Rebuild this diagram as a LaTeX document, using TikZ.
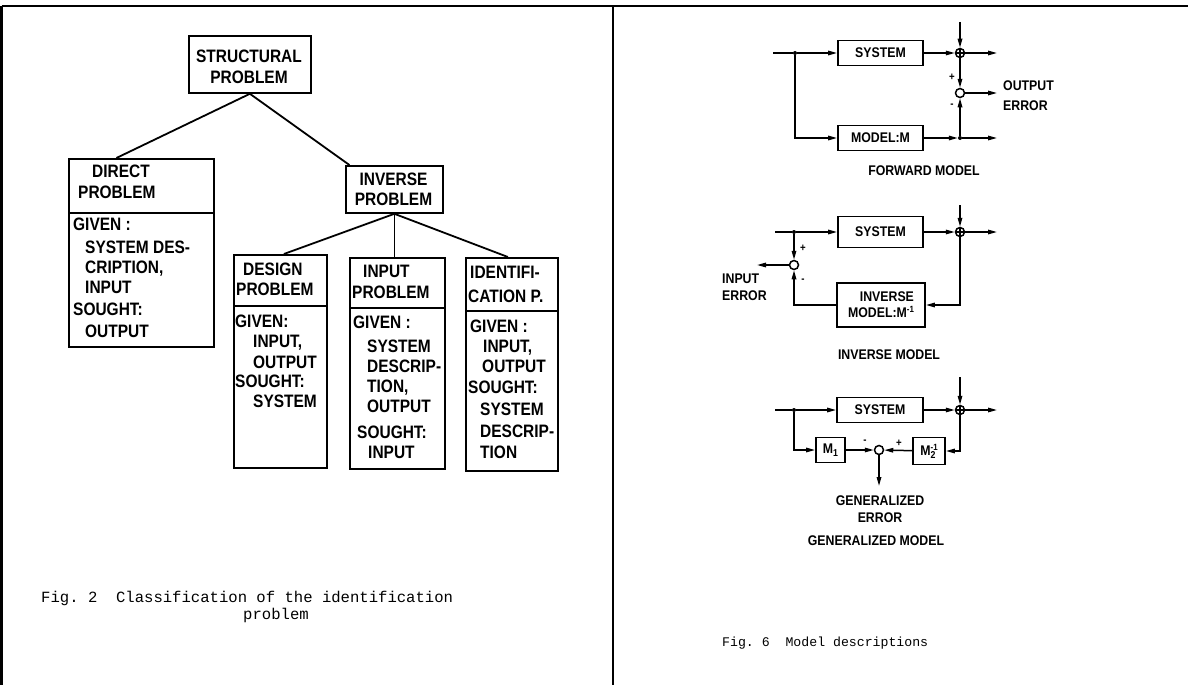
\documentclass[tikz,border=0pt]{standalone}
\usepackage{fontspec}
\newfontfamily\dinL{Liberation Sans Bold}[FakeStretch=0.86]
\newfontfamily\dinR{Liberation Sans Bold}[FakeStretch=0.88]
\newfontfamily\typew{Liberation Mono}
\usetikzlibrary{arrows.meta}
\newcommand\mysub[1]{\raisebox{-0.35ex}{\fontsize{10}{10}\selectfont #1}}
\newcommand\mysup[1]{\raisebox{0.75ex}{\fontsize{9}{9}\selectfont #1}}
\begin{document}
\begin{tikzpicture}[x=1pt,y=-1pt,
  lbox/.style={draw, line width=1.8pt, inner sep=0pt, anchor=north west},
  lln/.style={line width=1.8pt},
  lt/.style={anchor=base west, inner sep=0pt, font={\dinL\fontsize{18}{20}\selectfont}},
  rbox/.style={draw, line width=1.8pt, inner sep=0pt, font={\dinR\fontsize{14}{16}\selectfont}},
  rt/.style={anchor=base west, inner sep=0pt, font={\dinR\fontsize{14}{16}\selectfont}},
  sg/.style={inner sep=0pt, font={\dinR\fontsize{11}{11}\selectfont}},
  sumc/.style={circle, draw, line width=1.5pt, minimum size=9pt, inner sep=0pt},
  dot/.style={circle, fill, minimum size=4pt, inner sep=0pt},
  ln/.style={line width=1.5pt},
  arr/.style={line width=1.5pt, -{Triangle[length=9pt,width=4.5pt]}},
  frame/.style={line width=2.8pt}]
\fill[white] (0,0) rectangle (1188,685);
\useasboundingbox (0,0) rectangle (1188,685);
% frame
\draw[frame] (1.5,6) -- (1188,6);
\draw[frame] (1.5,6) -- (1.5,685);
\draw[frame] (613,6) -- (613,685);

% ---------------- left panel ----------------
\node[lbox, minimum width=122pt, minimum height=57pt] (sp) at (188,35) {};
\node[lt, anchor=base] (sp1) at (249,63) {STRUCTURAL};
\node[lt, anchor=base] (sp2) at (249,83) {PROBLEM};

\node[lbox, minimum width=145pt, minimum height=54pt] (dh) at (68,158) {};
\node[lbox, minimum width=145pt, minimum height=134pt] (db) at (68,212) {};
\node[lt] (d1) at (92,177) {DIRECT};
\node[lt] (d2) at (78,198) {PROBLEM};
\node[lt] (d3) at (73,230) {GIVEN :};
\node[lt] (d4) at (85,253) {SYSTEM DES-};
\node[lt] (d5) at (85,273) {CRIPTION,};
\node[lt] (d6) at (85,293) {INPUT};
\node[lt] (d7) at (73,315) {SOUGHT:};
\node[lt] (d8) at (85,337) {OUTPUT};

\node[lbox, minimum width=97pt, minimum height=47pt] (ih) at (345,165) {};
\node[lt, anchor=base] (i1) at (393.5,185) {INVERSE};
\node[lt, anchor=base] (i2) at (393.5,205) {PROBLEM};

\node[lbox, minimum width=93pt, minimum height=51pt] (gh) at (233,254) {};
\node[lbox, minimum width=93pt, minimum height=162pt] (gb) at (233,305) {};
\node[lt] (g1) at (243,275) {DESIGN};
\node[lt] (g2) at (236,295) {PROBLEM};
\node[lt] (g3) at (235,327) {GIVEN:};
\node[lt] (g4) at (253,347) {INPUT,};
\node[lt] (g5) at (253,368) {OUTPUT};
\node[lt] (g6) at (235,387) {SOUGHT:};
\node[lt] (g7) at (253,407) {SYSTEM};

\node[lbox, minimum width=95pt, minimum height=50pt] (nh) at (349,257) {};
\node[lbox, minimum width=95pt, minimum height=161pt] (nb) at (349,307) {};
\node[lt] (n1) at (363,277) {INPUT};
\node[lt] (n2) at (352,298) {PROBLEM};
\node[lt] (n3) at (353,328) {GIVEN :};
\node[lt] (n4) at (367,352) {SYSTEM};
\node[lt] (n5) at (367,372) {DESCRIP-};
\node[lt] (n6) at (367,392) {TION,};
\node[lt] (n7) at (367,412) {OUTPUT};
\node[lt] (n8) at (357,438) {SOUGHT:};
\node[lt] (n9) at (368,458) {INPUT};

\node[lbox, minimum width=92pt, minimum height=53pt] (fh) at (465,257) {};
\node[lbox, minimum width=92pt, minimum height=160pt] (fb) at (465,310) {};
\node[lt] (f1) at (470,278) {IDENTIFI-};
\node[lt] (f2) at (468,302) {CATION P.};
\node[lt] (f3) at (470,332) {GIVEN :};
\node[lt] (f4) at (483,352) {INPUT,};
\node[lt] (f5) at (482,372) {OUTPUT};
\node[lt] (f6) at (468,393) {SOUGHT:};
\node[lt] (f7) at (480,415) {SYSTEM};
\node[lt] (f8) at (480,437) {DESCRIP-};
\node[lt] (f9) at (480,458) {TION};

\draw[lln] (sp.south) -- ([xshift=-25pt]dh.north);
\draw[lln] (sp.south) -- ([xshift=-45pt]ih.north);
\draw[lln] (ih.south) -- ([xshift=3.5pt]gh.north);
\draw[lln] (ih.south) -- ([xshift=-3pt]nh.north);
\draw[lln] (ih.south) -- ([xshift=-4pt]fh.north);

\node[anchor=base west, inner sep=0pt, font={\typew\fontsize{15.6}{18}\selectfont}] (cap2a) at (41,602) {Fig.~2~~Classification of the identification};
\node[anchor=base west, inner sep=0pt, font={\typew\fontsize{15.6}{18}\selectfont}] (cap2b) at (243,619) {problem};

% ---------------- right panel: forward model ----------------
\node[rbox, minimum width=85pt, minimum height=25pt] (sysA) at (880.5,53) {SYSTEM};
\node[rbox, minimum width=85pt, minimum height=25pt] (modA) at (880.5,138) {MODEL:M};
\coordinate (inA) at (773,53);
\node[dot] (jA) at (795,53) {};
\node[sumc] (sA) at (960,53) {};
\coordinate (tA) at (960,22);
\coordinate (oA) at (997,53);
\node[sumc] (eA) at (960,93) {};
\coordinate (oeA) at (997,93);
\node[dot] (kA) at (960,138) {};
\coordinate (omA) at (997,138);
\draw[ln] (inA) -- (jA);
\draw[arr] (jA) -- (sysA);
\draw[arr] (jA) |- (modA);
\draw[arr] (sysA) -- (sA);
\draw[arr] (tA) -- (sA);
\draw[arr] (sA) -- (oA);
\draw[arr] (sA) -- (eA);
\draw[arr] (kA) -- (eA);
\draw[arr] (eA) -- (oeA);
\draw[arr] (modA) -- (kA);
\draw[arr] (kA) -- (omA);
\draw[ln] (sA.north) -- (sA.south) (sA.west) -- (sA.east);
\node[sg] (pA) at (952,77) {+};
\node[sg] (mA) at (952,106) {-};
\node[rt] (oeA1) at (1003,90) {OUTPUT};
\node[rt] (oeA2) at (1003,110) {ERROR};
\node[rt, anchor=base] (capA) at (924,175) {FORWARD MODEL};

% ---------------- inverse model ----------------
\node[rbox, minimum width=85pt, minimum height=31pt] (sysB) at (880.5,232) {SYSTEM};
\node[rbox, minimum width=88pt, minimum height=44pt, align=right] (invB) at (881,305) {INVERSE\\MODEL:M\mysup{-1}};
\coordinate (inB) at (775,232);
\node[dot] (jB) at (794,232) {};
\node[sumc] (sB) at (960,232) {};
\coordinate (tB) at (960,205);
\coordinate (oB) at (997,232);
\node[sumc] (cB) at (794,265) {};
\coordinate (ieB) at (757,265);
\draw[ln] (inB) -- (jB);
\draw[arr] (jB) -- (sysB);
\draw[arr] (sysB) -- (sB);
\draw[arr] (tB) -- (sB);
\draw[arr] (sB) -- (oB);
\draw[ln] (sB.north) -- (sB.south) (sB.west) -- (sB.east);
\draw[arr] (sB) |- (invB);
\draw[arr] (invB) -| (cB);
\draw[arr] (jB) -- (cB);
\draw[arr] (cB) -- (ieB);
\node[sg] (pB) at (803,248) {+};
\node[sg] (mB) at (803,281) {-};
\node[rt] (ieB1) at (722,283) {INPUT};
\node[rt] (ieB2) at (722,300) {ERROR};
\node[rt, anchor=base] (capB) at (889,359) {INVERSE MODEL};

% ---------------- generalized model ----------------
\node[rbox, minimum width=86pt, minimum height=25pt] (sysC) at (880,410) {SYSTEM};
\node[rbox, minimum width=29pt, minimum height=25pt] (m1C) at (830.5,450) {M\mysub{1}};
\node[rbox, minimum width=32pt, minimum height=27pt] (m2C) at (929,451) {M\rlap{\mysub{2}}\mysup{-1}};
\coordinate (inC) at (775,410);
\node[dot] (jC) at (794,410) {};
\node[sumc] (sC) at (960,410) {};
\coordinate (tC) at (960,377);
\coordinate (oC) at (997,410);
\node[sumc] (cC) at (879,450) {};
\coordinate (geC) at (879,486);
\draw[ln] (inC) -- (jC);
\draw[arr] (jC) -- (sysC);
\draw[arr] (sysC) -- (sC);
\draw[arr] (tC) -- (sC);
\draw[arr] (sC) -- (oC);
\draw[ln] (sC.north) -- (sC.south) (sC.west) -- (sC.east);
\draw[arr] (jC) |- (m1C);
\draw[arr] (m1C) -- (cC);
\draw[arr] (sC) |- (m2C);
\draw[arr] (m2C) -- (cC);
\draw[arr] (cC) -- (geC);
\node[sg] (mC) at (865,442) {-};
\node[sg] (pC) at (899,443) {+};
\node[rt, anchor=base] (geC1) at (880,505) {GENERALIZED};
\node[rt, anchor=base] (geC2) at (880,522) {ERROR};
\node[rt, anchor=base] (capC) at (876,545) {GENERALIZED MODEL};

\node[anchor=base west, inner sep=0pt, font={\typew\fontsize{13.2}{15}\selectfont}] (cap6) at (722,646) {Fig.~6~~Model descriptions};
\end{tikzpicture}
\end{document}
